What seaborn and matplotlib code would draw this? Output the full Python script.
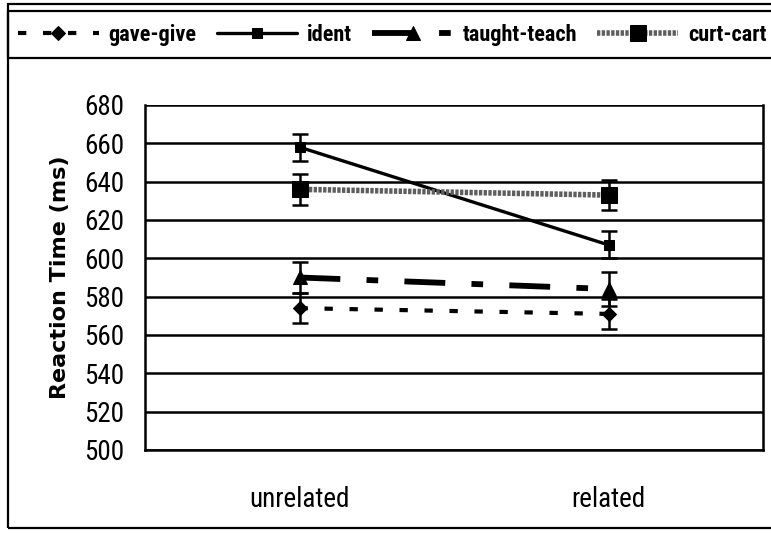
import numpy as np
import pandas as pd
import matplotlib
matplotlib.use("Agg")
import matplotlib.pyplot as plt
from matplotlib import font_manager
from matplotlib.patches import Rectangle
import seaborn as sns

# =====================
# data
# =====================
CONDITIONS = ["unrelated", "related"]
SERIES = ["gave-give", "ident", "taught-teach", "curt-cart"]

gave_give = [574, 571]
gave_give_err = [8, 8]
ident = [658, 607]
ident_err = [7, 7]
taught_teach = [590, 584]
taught_teach_err = [8, 9]
curt_cart = [636, 633]
curt_cart_err = [8, 8]

Y_TICKS = list(range(500, 681, 20))

# =====================
# fonts: narrow face if one is installed
# =====================
available = {f.name for f in font_manager.fontManager.ttflist}
NARROW = None
for name in ["Liberation Sans Narrow", "Roboto Condensed", "Open Sans Condensed",
             "DejaVu Sans Condensed", "Noto Sans Condensed"]:
    if name in available:
        NARROW = name
        break
condensed_files = [f for f in font_manager.fontManager.ttflist
                   if f.name == "DejaVu Sans" and f.stretch == "condensed"]
if NARROW is None:
    NARROW = "DejaVu Sans"
STRETCH = "condensed" if (NARROW == "DejaVu Sans" and condensed_files) else "normal"

sns.set_theme(style="white")
plt.rcParams["font.family"] = [NARROW, "DejaVu Sans"]
plt.rcParams["font.stretch"] = STRETCH
for key in ["text.color", "axes.labelcolor", "xtick.color", "ytick.color"]:
    plt.rcParams[key] = "black"

STYLES = {
    "gave-give": dict(color="black", lw=3.0, marker="D", ms=7.5, dashes=(2.0, 4.0)),
    "ident": dict(color="black", lw=2.4, marker="s", ms=7.5, dashes=None),
    "taught-teach": dict(color="black", lw=4.2, marker="^", ms=10, dashes=(7, 4.5, 2, 4.5)),
    "curt-cart": dict(color="#5e5e5e", lw=4.0, marker="s", ms=12, dashes=(0.6, 0.25)),
}

means = {"gave-give": gave_give, "ident": ident,
         "taught-teach": taught_teach, "curt-cart": curt_cart}
errs = {"gave-give": gave_give_err, "ident": ident_err,
        "taught-teach": taught_teach_err, "curt-cart": curt_cart_err}

rows = []
for s in SERIES:
    for i, c in enumerate(CONDITIONS):
        rows.append({"series": s, "x": i + 0.5, "condition": c,
                     "rt": means[s][i], "err": errs[s][i]})
df = pd.DataFrame(rows)

fig = plt.figure(figsize=(7.71, 5.34), dpi=100)
ax = fig.add_axes([145 / 771, 1 - 450 / 534, (763 - 145) / 771, (450 - 105) / 534])

for s in SERIES:
    st = STYLES[s]
    d = df[df["series"] == s]
    ax.errorbar(d["x"], d["rt"], yerr=d["err"], fmt="none", ecolor="black",
                elinewidth=1.8, capsize=5.5, capthick=1.8, zorder=3)
    sns.lineplot(data=d, x="x", y="rt", ax=ax, color=st["color"], lw=st["lw"],
                 marker=st["marker"], markersize=st["ms"], markeredgecolor="black",
                 markerfacecolor="black", label=s, zorder=4)
    if st["dashes"] is not None:
        ax.get_lines()[-1].set_dashes(st["dashes"])

ax.set_xlim(0, 2)
ax.set_ylim(500, 680)
ax.set_yticks(Y_TICKS)
ax.set_yticklabels([str(t) for t in Y_TICKS], fontsize=19.5)
ax.set_xticks([0, 1, 2])
ax.set_xticklabels([])
ax.set_xticks([0.5, 1.5], minor=True)
ax.set_xticklabels(CONDITIONS, minor=True, fontsize=19.5)
ax.tick_params(axis="x", which="minor", length=0, pad=26)
ax.tick_params(axis="x", which="major", direction="out", length=8, width=1.8, color="black")
ax.tick_params(axis="y", direction="inout", length=12, width=1.8, color="black", pad=9)

ax.yaxis.grid(True, color="black", lw=1.8)
ax.set_axisbelow(True)
for side in ["left", "bottom", "right"]:
    ax.spines[side].set_color("black")
    ax.spines[side].set_linewidth(1.8)
ax.spines["top"].set_visible(False)

ax.set_xlabel("")
ax.set_ylabel("Reaction Time (ms)", fontsize=16, fontweight="bold",
              family=["DejaVu Sans"], stretch="normal", labelpad=10)
if ax.legend_:
    ax.legend_.remove()

# outer frame and legend box
fig.patches.append(Rectangle((8 / 771, 1 - 528 / 534), 1.0, (528 - 4) / 534,
                             transform=fig.transFigure, fill=False, ec="black", lw=1.6))
fig.patches.append(Rectangle((8 / 771, 1 - 58 / 534), 1.0, (58 - 11) / 534,
                             transform=fig.transFigure, fill=False, ec="black", lw=1.6))

LEG_FS = 16
handles = [l for l in ax.get_lines() if l.get_label() in SERIES]
leg = fig.legend(handles, SERIES, ncol=4, loc="center left",
                 bbox_to_anchor=(18 / 771, 1 - 35 / 534),
                 frameon=False, handlelength=58 / LEG_FS, handletextpad=0.45,
                 columnspacing=0.9, borderaxespad=0, borderpad=0,
                 prop={"family": [NARROW, "DejaVu Sans"], "stretch": STRETCH,
                       "weight": "bold", "size": LEG_FS})

fig.savefig("out.png", dpi=100)
